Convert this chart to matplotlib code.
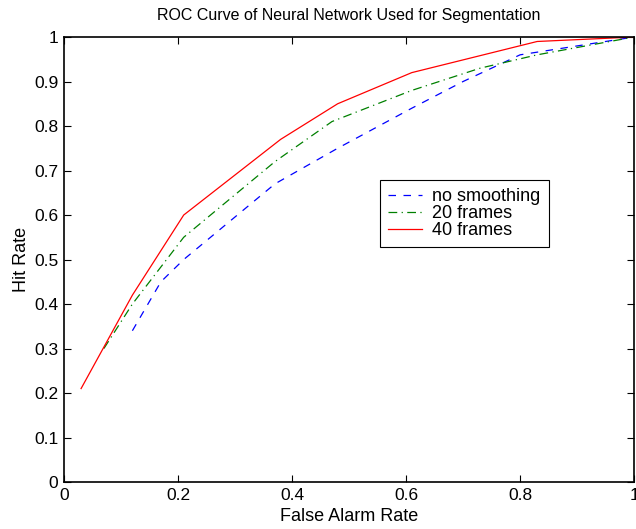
import matplotlib
matplotlib.use("Agg")
import matplotlib.pyplot as plt

plt.rcParams['font.family'] = ['Liberation Sans', 'DejaVu Sans']

x_none = [0.12, 0.17, 0.21, 0.37, 0.48, 0.61, 0.70, 0.80, 1.0]
y_none = [0.34, 0.45, 0.50, 0.67, 0.75, 0.84, 0.90, 0.96, 1.0]
x_20 = [0.07, 0.12, 0.21, 0.37, 0.47, 0.61, 0.73, 0.83, 1.0]
y_20 = [0.30, 0.40, 0.55, 0.72, 0.81, 0.88, 0.93, 0.96, 1.0]
x_40 = [0.03, 0.12, 0.21, 0.38, 0.48, 0.61, 0.83, 1.0]
y_40 = [0.21, 0.42, 0.60, 0.77, 0.85, 0.92, 0.99, 1.0]

labels = ['no smoothing', '20 frames', '40 frames']
xticks = [0, 0.2, 0.4, 0.6, 0.8, 1]
xticklabels = ['0', '0.2', '0.4', '0.6', '0.8', '1']
yticks = [0, 0.1, 0.2, 0.3, 0.4, 0.5, 0.6, 0.7, 0.8, 0.9, 1]
yticklabels = ['0', '0.1', '0.2', '0.3', '0.4', '0.5', '0.6', '0.7', '0.8', '0.9', '1']

fig = plt.figure(figsize=(6.36, 5.29), dpi=100)
ax = fig.add_axes([0.1006, 0.0888, 0.8964, 0.8412])
ax.plot(x_none, y_none, color='#0000ff', linestyle=(0, (6, 6)), linewidth=0.9, label=labels[0])
ax.plot(x_20, y_20, color='#008000', linestyle=(0, (7, 3.5, 1, 3.5)), linewidth=0.9, label=labels[1])
ax.plot(x_40, y_40, color='#ff0000', linestyle='-', linewidth=0.9, label=labels[2])

ax.set_xlim(0, 1)
ax.set_ylim(0, 1)
ax.set_xticks(xticks)
ax.set_xticklabels(xticklabels)
ax.set_yticks(yticks)
ax.set_yticklabels(yticklabels)
ax.tick_params(direction='in', top=True, right=True, labelsize=12.5, length=5, width=0.8, pad=4)
for s in ax.spines.values():
    s.set_linewidth(1.2)
ax.set_xlabel('False Alarm Rate', fontsize=13, labelpad=4)
ax.set_ylabel('Hit Rate', fontsize=13, labelpad=3)
ax.set_title('ROC Curve of Neural Network Used for Segmentation', fontsize=11.5, pad=12)

leg = ax.legend(loc='upper left', bbox_to_anchor=(0.554, 0.679), fontsize=13,
                frameon=True, fancybox=False, edgecolor='black', framealpha=1,
                borderpad=0.45, labelspacing=0.0, handlelength=1.9, handletextpad=0.55,
                borderaxespad=0)
leg.get_frame().set_linewidth(0.8)

fig.savefig('out.png', dpi=100)
